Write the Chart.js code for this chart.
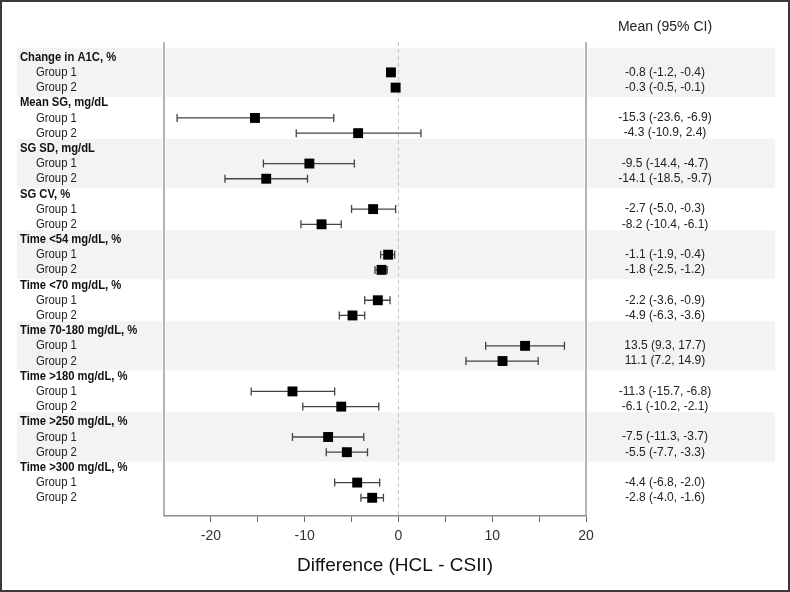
<!DOCTYPE html>
<html>
<head>
<meta charset="utf-8">
<script src="https://cdn.jsdelivr.net/npm/chart.js@4.4.1/dist/chart.umd.min.js"></script>
<style>
  html, body { margin: 0; padding: 0; background: #fff; }
  #wrap { width: 790px; height: 592px; position: relative; }
</style>
</head>
<body>
<div id="wrap"><canvas id="forest"></canvas></div>
<script>
const sections = ['Change in A1C, %', 'Mean SG, mg/dL', 'SG SD, mg/dL', 'SG CV, %', 'Time <54 mg/dL, %',
  'Time <70 mg/dL, %', 'Time 70-180 mg/dL, %', 'Time >180 mg/dL, %', 'Time >250 mg/dL, %', 'Time >300 mg/dL, %'];
const groups = ['Group 1', 'Group 2'];
const group1Mean = [-0.8, -15.3, -9.5, -2.7, -1.1, -2.2, 13.5, -11.3, -7.5, -4.4];
const group1Low  = [-1.2, -23.6, -14.4, -5.0, -1.9, -3.6, 9.3, -15.7, -11.3, -6.8];
const group1High = [-0.4, -6.9, -4.7, -0.3, -0.4, -0.9, 17.7, -6.8, -3.7, -2.0];
const group2Mean = [-0.3, -4.3, -14.1, -8.2, -1.8, -4.9, 11.1, -6.1, -5.5, -2.8];
const group2Low  = [-0.5, -10.9, -18.5, -10.4, -2.5, -6.3, 7.2, -10.2, -7.7, -4.0];
const group2High = [-0.1, 2.4, -9.7, -6.1, -1.2, -3.6, 14.9, -2.1, -3.3, -1.6];
const xTickLabels = [-20, -10, 0, 10, 20];

const FONT = '"Liberation Sans", Arial, sans-serif';

// one row per header and per group, index = position on the y scale
const rows = [];
sections.forEach((name, i) => {
  rows.push({ label: name, header: true });
  rows.push({ label: groups[0], mean: group1Mean[i], lo: group1Low[i], hi: group1High[i] });
  rows.push({ label: groups[1], mean: group2Mean[i], lo: group2Low[i], hi: group2High[i] });
});

const points = rows.map((r, i) => r.header ? null : { x: r.mean, y: i, lo: r.lo, hi: r.hi }).filter(p => p);

const fmt = v => v.toFixed(1);

function narrowText(ctx, text, x, y, font, sx) {
  ctx.save();
  ctx.translate(x, y);
  ctx.scale(sx, 1);
  ctx.font = font;
  ctx.fillText(text, 0, 0);
  ctx.restore();
}

const forestPlugin = {
  id: 'forest',
  beforeDraw(chart) {
    const { ctx, scales: { y } } = chart;
    ctx.save();
    // shaded bands for every other section
    ctx.fillStyle = '#f3f3f3';
    sections.forEach((s, i) => {
      if (i % 2) return;
      const top = y.getPixelForValue(i * 3 - 0.62);
      const bot = y.getPixelForValue(i * 3 + 2.62);
      ctx.fillRect(17, top, 758, bot - top);
    });
    // left labels + right column text
    ctx.textBaseline = 'middle';
    rows.forEach((r, i) => {
      const py = y.getPixelForValue(i);
      ctx.fillStyle = '#111';
      ctx.textAlign = 'left';
      if (r.header) {
        narrowText(ctx, r.label, 20, py, 'bold 13px ' + FONT, 0.865);
      } else {
        ctx.fillStyle = '#222';
        narrowText(ctx, r.label, 36, py, '13px ' + FONT, 0.87);
        ctx.textAlign = 'center';
        ctx.font = '12px ' + FONT;
        ctx.fillText(`${fmt(r.mean)} (${fmt(r.lo)}, ${fmt(r.hi)})`, 665, py);
      }
    });
    ctx.fillStyle = '#222';
    ctx.textAlign = 'center';
    ctx.font = '14px ' + FONT;
    ctx.fillText('Mean (95% CI)', 665, 27);
    ctx.restore();
  },
  beforeDatasetsDraw(chart) {
    const { ctx, chartArea: a, scales: { x } } = chart;
    ctx.save();
    // left/right frame lines of the plot
    [a.left, a.right].forEach(px => {
      ctx.strokeStyle = '#fff';
      ctx.lineWidth = 4;
      ctx.beginPath(); ctx.moveTo(px, a.top); ctx.lineTo(px, a.bottom - 1); ctx.stroke();
      ctx.strokeStyle = '#9a9a9a';
      ctx.lineWidth = 1.5;
      ctx.beginPath(); ctx.moveTo(px, a.top); ctx.lineTo(px, a.bottom); ctx.stroke();
    });
    // reference line at zero
    const x0 = x.getPixelForValue(0);
    ctx.strokeStyle = '#c4c4c4';
    ctx.lineWidth = 1;
    ctx.setLineDash([4, 3]);
    ctx.beginPath(); ctx.moveTo(x0, a.top); ctx.lineTo(x0, a.bottom); ctx.stroke();
    ctx.setLineDash([]);
    // confidence interval whiskers
    const meta = chart.getDatasetMeta(0);
    ctx.strokeStyle = '#444';
    ctx.lineWidth = 1.3;
    meta.data.forEach((pt, i) => {
      const d = points[i];
      const xl = x.getPixelForValue(d.lo), xh = x.getPixelForValue(d.hi);
      ctx.beginPath();
      ctx.moveTo(xl, pt.y); ctx.lineTo(xh, pt.y);
      ctx.moveTo(xl, pt.y - 4); ctx.lineTo(xl, pt.y + 4);
      ctx.moveTo(xh, pt.y - 4); ctx.lineTo(xh, pt.y + 4);
      ctx.stroke();
    });
    ctx.restore();
  },
  afterDraw(chart) {
    const { ctx } = chart;
    ctx.save();
    ctx.fillStyle = '#111';
    ctx.textAlign = 'center';
    ctx.textBaseline = 'middle';
    ctx.font = '19px ' + FONT;
    ctx.fillText('Difference (HCL - CSII)', 395, 566);
    ctx.strokeStyle = '#3a3a3a';
    ctx.lineWidth = 2;
    ctx.strokeRect(1, 1, 788, 590);
    ctx.restore();
  }
};

new Chart(document.getElementById('forest'), {
  type: 'scatter',
  data: {
    datasets: [{
      data: points,
      pointStyle: 'rect',
      pointRadius: 7,
      pointHoverRadius: 7,
      backgroundColor: '#000',
      borderWidth: 0
    }]
  },
  options: {
    responsive: true,
    maintainAspectRatio: false,
    devicePixelRatio: 1,
    animation: false,
    layout: { padding: { left: 164, right: 204, top: 42, bottom: 0 } },
    scales: {
      x: {
        type: 'linear',
        min: -25,
        max: 20,
        afterFit: s => { s.height = 76; },
        border: { display: true, color: '#8a8a8a', width: 1.5 },
        grid: { drawOnChartArea: false, drawTicks: true, tickLength: 6, color: '#666' },
        ticks: {
          stepSize: 5,
          autoSkip: false,
          maxRotation: 0,
          padding: 6,
          color: '#333',
          font: { family: FONT, size: 14 },
          callback: v => v === -25 ? null : (xTickLabels.includes(v) ? String(v) : '')
        }
      },
      y: { type: 'linear', min: -1, max: 30.2, reverse: true, display: false }
    },
    plugins: { legend: { display: false }, tooltip: { enabled: false } }
  },
  plugins: [forestPlugin]
});
</script>
</body>
</html>
